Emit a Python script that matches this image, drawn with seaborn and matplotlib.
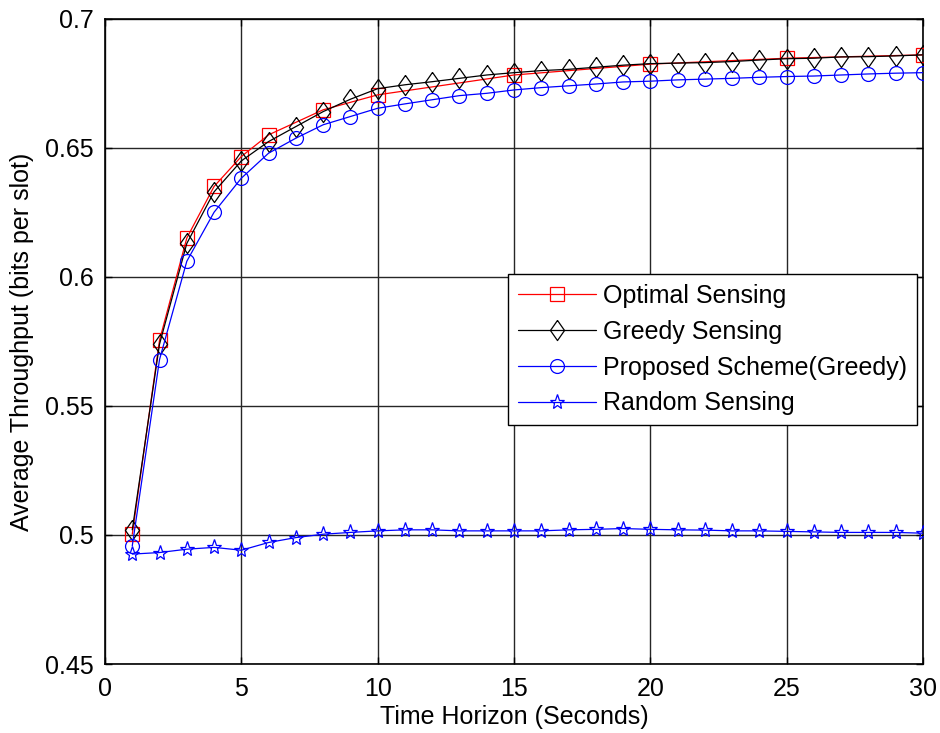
import numpy as np
import pandas as pd
import matplotlib
matplotlib.use("Agg")
import matplotlib.pyplot as plt
import seaborn as sns
from matplotlib.lines import Line2D

# ---------------- data ----------------
x_opt = [1, 2, 3, 4, 5, 6, 8, 10, 15, 20, 25, 30]
y_opt = [0.5003, 0.5755, 0.6151, 0.6351, 0.6467, 0.6551, 0.6648, 0.6706,
         0.6783, 0.6825, 0.6848, 0.6861]

x_all = list(range(1, 31))
y_greedy = [0.5020, 0.5740, 0.6130, 0.6330, 0.6450, 0.6525, 0.6583, 0.6641,
            0.6689, 0.6730, 0.6745, 0.6757, 0.6770, 0.6783, 0.6792, 0.6800,
            0.6805, 0.6813, 0.6821, 0.6827, 0.6829, 0.6831, 0.6835, 0.6841,
            0.6846, 0.6848, 0.6853, 0.6854, 0.6857, 0.6861]
y_prop = [0.4958, 0.5680, 0.6061, 0.6251, 0.6383, 0.6480, 0.6538, 0.6590,
          0.6622, 0.6654, 0.6671, 0.6687, 0.6703, 0.6712, 0.6725, 0.6734,
          0.6741, 0.6748, 0.6756, 0.6759, 0.6764, 0.6767, 0.6770, 0.6774,
          0.6777, 0.6779, 0.6783, 0.6787, 0.6790, 0.6792]
y_rand = [0.4926, 0.4932, 0.4945, 0.4952, 0.4941, 0.4971, 0.4990, 0.5003,
          0.5010, 0.5016, 0.5020, 0.5020, 0.5016, 0.5016, 0.5016, 0.5016,
          0.5020, 0.5022, 0.5025, 0.5022, 0.5020, 0.5019, 0.5016, 0.5016,
          0.5014, 0.5012, 0.5010, 0.5010, 0.5010, 0.5007]

labels = ["Optimal Sensing", "Greedy Sensing", "Proposed Scheme(Greedy)", "Random Sensing"]
x_ticks = [0, 5, 10, 15, 20, 25, 30]
y_ticks = [0.45, 0.5, 0.55, 0.6, 0.65, 0.7]
y_ticklabels = ["0.45", "0.5", "0.55", "0.6", "0.65", "0.7"]

# ---------------- style ----------------
sns.set_theme(style="white")
plt.rcParams['font.family'] = ['Liberation Sans', 'DejaVu Sans']
plt.rcParams['text.color'] = 'black'
plt.rcParams['axes.labelcolor'] = 'black'
plt.rcParams['xtick.color'] = 'black'
plt.rcParams['ytick.color'] = 'black'
FS = 18

# MATLAB-like diamond (taller than wide)
diamond = [(0, 1), (0.7, 0), (0, -1), (-0.7, 0), (0, 1)]

fig = plt.figure(figsize=(9.4, 7.33), dpi=100)
ax = fig.add_axes([105/940, 1 - 664/733, (923-105)/940, (664-19)/733])

series = [
    (x_opt, y_opt, labels[0], 'red', 's', 9.5),
    (x_all, y_greedy, labels[1], 'black', diamond, 14.5),
    (x_all, y_prop, labels[2], 'blue', 'o', 10),
    (x_all, y_rand, labels[3], 'blue', '*', 11),
]

handles = []
for xs, ys, lab, col, mk, ms in series:
    df = pd.DataFrame({"x": xs, "y": ys})
    sns.lineplot(data=df, x="x", y="y", ax=ax, color=col, linewidth=0.9,
                 marker=mk, markersize=ms, markerfacecolor='none',
                 markeredgecolor=col, markeredgewidth=0.9, zorder=3)
    handles.append(Line2D([], [], color=col, linewidth=0.9, marker=mk,
                          markersize=ms, markerfacecolor='none',
                          markeredgecolor=col, markeredgewidth=0.9))

ax.set_xlim(0, 30)
ax.set_ylim(0.45, 0.7)
ax.set_xticks(x_ticks)
ax.set_xticklabels([str(t) for t in x_ticks], fontsize=FS, color='black')
ax.set_yticks(y_ticks)
ax.set_yticklabels(y_ticklabels, fontsize=FS, color='black')
ax.grid(True, color='0.15', linewidth=1.0, linestyle='-')
ax.set_axisbelow(True)
for sp in ax.spines.values():
    sp.set_color('black')
    sp.set_linewidth(1.2)
ax.tick_params(axis='both', direction='in', length=5, width=1, color='black',
               labelcolor='black', top=True, right=True, bottom=True, left=True)
ax.tick_params(axis='y', pad=8)
ax.tick_params(axis='x', pad=9)

ax.set_xlabel("Time Horizon (Seconds)", fontsize=FS, labelpad=3, color='black')
ax.set_ylabel("Average Throughput (bits per slot)", fontsize=FS, labelpad=8, color='black')

leg = ax.legend(handles=handles, labels=labels, loc='upper left',
                bbox_to_anchor=((508-105)/818, (664-274)/645),
                fontsize=FS, frameon=True, fancybox=False, framealpha=1,
                edgecolor='black', handlelength=3.1, handletextpad=0.3,
                labelspacing=0.47, borderpad=0.4, borderaxespad=0)
leg.get_frame().set_linewidth(1.0)
for t in leg.get_texts():
    t.set_color('black')

fig.savefig("out.png", dpi=100)
